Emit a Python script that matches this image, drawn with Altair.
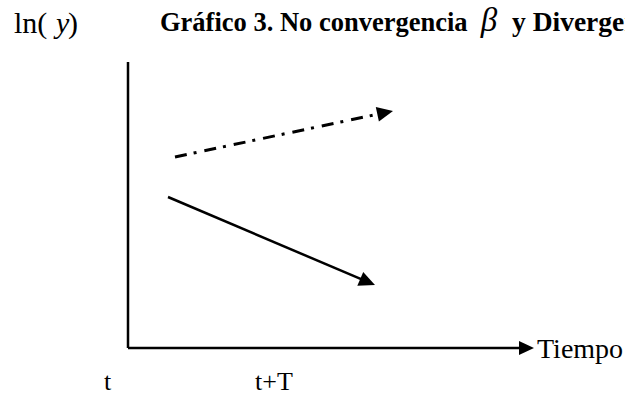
import math
import altair as alt
import pandas as pd

# Diagram units: the origin is the corner of the two axes.
X_DOMAIN = [-3.2, 12.425]
Y_DOMAIN = [-1.68, 12.17]
W, H = 625, 396
PX_X = W / (X_DOMAIN[1] - X_DOMAIN[0])
PX_Y = H / (Y_DOMAIN[1] - Y_DOMAIN[0])

# Axes (ln(y) vertical, time horizontal)
axis_v_x = [0, 0]
axis_v_y = [0, 10]
axis_h_x = [0, 10.15]
axis_h_y = [0, 0]

# Trajectories: upper one (dash-dot) and lower one (solid), start -> tip
upper_x = [1.175, 6.625]
upper_y = [6.68, 8.29]
lower_x = [1.0, 6.175]
lower_y = [5.28, 2.2]

ARROW = "M0,0L-2,-0.94L-2,0.94Z"


def segment(xs, ys, shorten=0.0):
    # stop the shaft a little before the tip so the head stays sharp
    dx, dy = xs[1] - xs[0], ys[1] - ys[0]
    dx_px, dy_px = dx * PX_X, dy * PX_Y
    length = math.hypot(dx_px, dy_px)
    f = 1 - shorten / length
    return pd.DataFrame({"x": [xs[0], xs[0] + dx * f], "y": [ys[0], ys[0] + dy * f]})


def head(xs, ys):
    dx_px = (xs[1] - xs[0]) * PX_X
    dy_px = -(ys[1] - ys[0]) * PX_Y
    ang = math.degrees(math.atan2(dy_px, dx_px)) % 360
    return pd.DataFrame({"x": [xs[1]], "y": [ys[1]], "ang": [ang]})


xs = alt.Scale(domain=X_DOMAIN, nice=False, zero=False)
ys = alt.Scale(domain=Y_DOMAIN, nice=False, zero=False)
X = lambda: alt.X("x:Q", scale=xs, axis=None)
Y = lambda: alt.Y("y:Q", scale=ys, axis=None)


def line(df, width, dash=None):
    kw = dict(color="black", strokeWidth=width, strokeCap="butt")
    if dash:
        kw["strokeDash"] = dash
    return alt.Chart(df).mark_line(**kw).encode(x=X(), y=Y(), order="x:Q")


def arrowhead(df, size):
    return alt.Chart(df).mark_point(
        shape=ARROW, filled=True, size=size, color="black", opacity=1
    ).encode(x=X(), y=Y(), angle=alt.Angle("ang:Q", scale=None))


def label(text, x, y, size, weight="normal", style="normal"):
    df = pd.DataFrame({"x": [x], "y": [y], "t": [text]})
    return alt.Chart(df).mark_text(
        align="left", baseline="alphabetic", font="Liberation Serif",
        fontSize=size, fontWeight=weight, fontStyle=style, color="black"
    ).encode(x=X(), y=Y(), text="t:N")


layers = [
    line(pd.DataFrame({"x": axis_v_x, "y": axis_v_y}), 2.5),
    line(segment(axis_h_x, axis_h_y, 8), 2.5),
    arrowhead(head(axis_h_x, axis_h_y), 225),
    line(segment(upper_x, upper_y, 8), 3, [12, 7, 3, 8]),
    arrowhead(head(upper_x, upper_y), 256),
    line(segment(lower_x, lower_y, 8), 2.5),
    arrowhead(head(lower_x, lower_y), 256),
    label("ln(", -2.85, 11.01, 30),
    label("y", -1.8, 11.01, 30, style="italic"),
    label(")", -1.5, 11.01, 30),
    label("Gráfico 3. No convergencia", 0.8, 11.08, 26.5, weight="bold"),
    label("β", 8.82, 11.08, 33, style="italic"),
    label("y Divergencia", 9.6, 11.08, 27.5, weight="bold"),
    label("Tiempo", 10.225, -0.35, 28),
    label("t", -0.6, -1.47, 26),
    label("t+T", 3.175, -1.47, 26),
]

chart = alt.layer(*layers).properties(
    width=W, height=H, padding=0, autosize=alt.AutoSizeParams(type="none")
).configure_view(stroke=None)

chart.save("out.html", embed_options={"renderer": "svg", "actions": False})
